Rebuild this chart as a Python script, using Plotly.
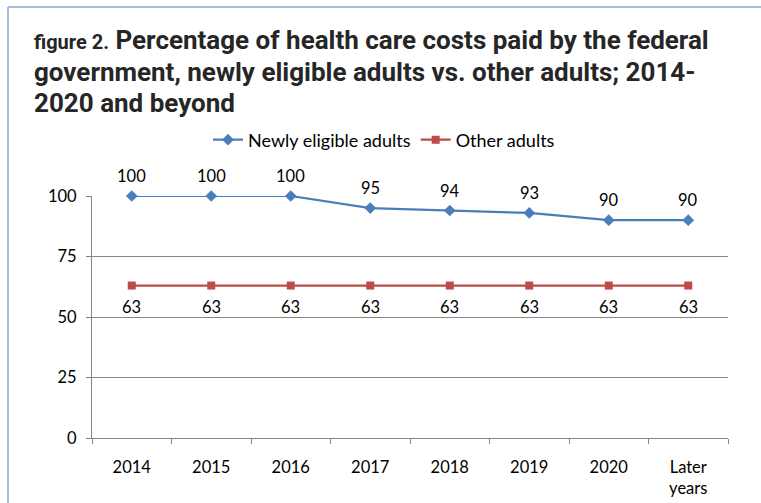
import plotly.graph_objects as go

categories = ["2014", "2015", "2016", "2017", "2018", "2019", "2020", "Later<br>years"]
newly_eligible = [100, 100, 100, 95, 94, 93, 90, 90]
other_adults = [63, 63, 63, 63, 63, 63, 63, 63]
y_ticks = [0, 25, 50, 75, 100]

W, H = 761, 503
L, R, T, B = 92, 728, 196, 438
pw, ph = R - L, B - T

def px(x):
    return (x - L) / pw

def py(y):
    return (B - y) / ph

BLUE = "#4A7EBB"
RED = "#BE4B48"
GRID = "#868686"
FONT = "Lato, Carlito, 'Liberation Sans', sans-serif"
TFONT = "Roboto, 'Liberation Sans', sans-serif"

fig = go.Figure()
fig.add_trace(go.Scatter(
    x=categories, y=newly_eligible, name="Newly eligible adults",
    mode="lines+markers",
    line=dict(color=BLUE, width=2.2), marker=dict(symbol="diamond", size=9, color=BLUE),
    cliponaxis=False,
))
fig.add_trace(go.Scatter(
    x=categories, y=other_adults, name="Other adults",
    mode="lines+markers",
    line=dict(color=RED, width=2.2), marker=dict(symbol="square", size=8, color=RED),
    cliponaxis=False,
))

annotations = []
# data labels (x given as category index)
for i, v in enumerate(newly_eligible):
    annotations.append(dict(x=i, y=v, text=str(v), showarrow=False, yshift=20,
                            xanchor="center", yanchor="middle",
                            font=dict(size=16.5, family=FONT, color="#000")))
for i, v in enumerate(other_adults):
    annotations.append(dict(x=i, y=v, text=str(v), showarrow=False, yshift=-21,
                            xanchor="center", yanchor="middle",
                            font=dict(size=16.5, family=FONT, color="#000")))

title_lines = [
    ('<span style="font-size:20px">figure 2.</span> Percentage of health care costs paid by the federal', 40),
    ("government, newly eligible adults vs. other adults; 2014-", 72),
    ("2020 and beyond", 103),
]
for txt, yc in title_lines:
    annotations.append(dict(
        text="<b>" + txt + "</b>", x=px(32), y=py(yc), xref="paper", yref="paper",
        xanchor="left", yanchor="middle", showarrow=False,
        font=dict(family=TFONT, size=26, color="#262626"),
    ))

shapes = [
    dict(type="line", xref="paper", yref="paper", x0=px(8), x1=px(8), y0=py(7), y1=py(520),
         line=dict(color="#8FA5CF", width=1.5)),
    dict(type="line", xref="paper", yref="paper", x0=px(8), x1=px(770), y0=py(7), y1=py(7),
         line=dict(color="#8FA5CF", width=1.5)),
]

fig.update_layout(
    width=W, height=H,
    margin=dict(l=L, r=W - R, t=T, b=H - B, autoexpand=False),
    paper_bgcolor="white", plot_bgcolor="white",
    font=dict(family=FONT, size=16, color="#000"),
    showlegend=True,
    legend=dict(orientation="h", x=px(384), xanchor="center", y=py(140), yanchor="middle",
                font=dict(size=18, family=FONT), itemwidth=30, tracegroupgap=0,
                bgcolor="rgba(0,0,0,0)"),
    annotations=annotations,
    shapes=shapes,
    xaxis=dict(
        type="category", showgrid=False, showline=True, linecolor=GRID, linewidth=1,
        ticks="outside", tickson="boundaries", ticklen=5, tickcolor=GRID,
        tickfont=dict(size=16.5, family=FONT), ticklabelstandoff=14, automargin=False,
        range=[-0.5, len(categories) - 0.5], zeroline=False,
    ),
    yaxis=dict(
        range=[0, 100], tickvals=y_ticks, showgrid=True, gridcolor=GRID, gridwidth=1,
        showline=True, linecolor=GRID, linewidth=1, ticks="outside", ticklen=5,
        tickcolor=GRID, tickfont=dict(size=16.5, family=FONT), zeroline=False,
        ticklabelstandoff=6, automargin=False,
    ),
)

fig.write_html("out.html")
